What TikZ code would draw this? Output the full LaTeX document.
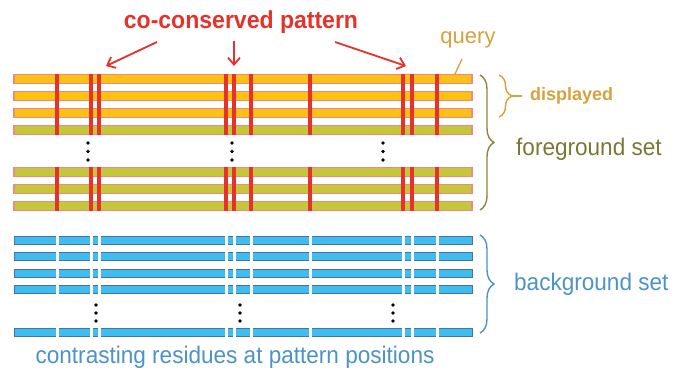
\documentclass[tikz,border=0pt]{standalone}
\usepackage{fontspec}
\setmainfont{Liberation Sans}
\newfontfamily\condfont[FakeStretch=0.94]{Liberation Sans}
\newfontfamily\plainfont{Liberation Sans}
\usetikzlibrary{decorations.pathreplacing,arrows.meta}
\definecolor{cred}{HTML}{E5322B}
\definecolor{corange}{HTML}{FDC114}
\definecolor{colive}{HTML}{C6C63A}
\definecolor{cpink}{HTML}{EE8A86}
\definecolor{cblue}{HTML}{3EBEEE}
\definecolor{cblueedge}{HTML}{4E6EA6}
\definecolor{cgold}{HTML}{D7A23C}
\definecolor{coliveline}{HTML}{8E8440}
\definecolor{colivetext}{HTML}{7B7834}
\definecolor{cbluetext}{HTML}{4C93C6}
\tikzset{
  fgbar/.style={draw=cpink, line width=1.1pt},
  bgbar/.style={draw=cblueedge, fill=cblue, line width=1pt},
  redline/.style={draw=cred, line width=4pt},
  gapline/.style={draw=white, line width=3pt},
  dotmark/.style={circle, fill=black, inner sep=0pt, minimum size=3.8pt},
  bracestyle/.style={decorate, decoration={brace, amplitude=14pt}, line width=1.4pt},
  redarrow/.style={draw=cred, line width=1.8pt, -{Straight Barb[length=7pt, width=12pt]}},
  lbl/.style={inner sep=0pt}
}
\begin{document}
\begin{tikzpicture}[x=1pt, y=-1pt]
\useasboundingbox[fill=white] (0,0) rectangle (689,373);

% foreground bars
\foreach \y/\c in {79/corange, 96/corange, 113/corange, 130/colive, 172/colive, 189/colive, 206/colive}
  \draw[fgbar, fill=\c] (14,\y-4.2) rectangle (472,\y+4.2);

% red pattern lines
\foreach \x in {57, 91, 99, 226, 234, 251, 310, 403, 412, 437} {
  \draw[redline] (\x,74) -- (\x,135);
  \draw[redline] (\x,167) -- (\x,211);
}

% foreground dots
\foreach \x in {88, 232, 383}
  \foreach \y [count=\i] in {143, 151.5, 160}
    \node[dotmark] (fd-\x-\i) at (\x,\y) {};

% background bars
\foreach \y in {240, 256.5, 273, 289.5, 332}
  \draw[bgbar] (14,\y-4) rectangle (472,\y+4);
\foreach \x in {57, 91, 99, 226, 234, 251, 310, 403, 412, 437} {
  \draw[gapline] (\x,234) -- (\x,295);
  \draw[gapline] (\x,326) -- (\x,338);
}

% background dots
\foreach \x in {96, 240, 393}
  \foreach \y [count=\i] in {305, 313, 321}
    \node[dotmark] (bd-\x-\i) at (\x,\y) {};

% title and arrows
\node[lbl, text=cred, font=\condfont\bfseries\fontsize{24.5}{26}\selectfont] (title) at (241,22) {co-conserved pattern};
\coordinate (a1s) at (157,42);
\coordinate (a1e) at (106,66);
\coordinate (a2s) at (234,41);
\coordinate (a2e) at (234,66);
\coordinate (a3s) at (335,42);
\coordinate (a3e) at (406,66);
\draw[redarrow] (a1s) -- (a1e);
\draw[redarrow] (a2s) -- (a2e);
\draw[redarrow] (a3s) -- (a3e);

% query label
\node[lbl, text=cgold, font=\plainfont\fontsize{22}{24}\selectfont] (query) at (468,40) {query};
\coordinate (qe) at (455,74);
\draw[cgold, line width=1.3pt] (462,59) -- (qe);

% braces
\draw[bracestyle, draw=coliveline] (480,75) -- (480,210);
\draw[bracestyle, draw=cgold, decoration={brace, amplitude=13pt}] (499,75) -- (499,117);
\coordinate (dtip) at (512,96);
\coordinate (dtail) at (522,96);
\draw[cgold, line width=1.4pt] (dtip) -- (dtail);
\draw[bracestyle, draw=cbluetext] (480,235) -- (480,333);

\node[lbl, anchor=west, text=cgold, font=\plainfont\bfseries\fontsize{18}{20}\selectfont] (disp) at (530,96) {displayed};
\node[lbl, anchor=west, text=colivetext, font=\condfont\fontsize{24}{26}\selectfont] (fg) at (516,149) {foreground set};
\node[lbl, anchor=west, text=cbluetext, font=\condfont\fontsize{24}{26}\selectfont] (bg) at (514,284) {background set};
\node[lbl, text=cbluetext, font=\condfont\fontsize{24}{26}\selectfont] (bottom) at (235,357) {contrasting residues at pattern positions};
\end{tikzpicture}
\end{document}
